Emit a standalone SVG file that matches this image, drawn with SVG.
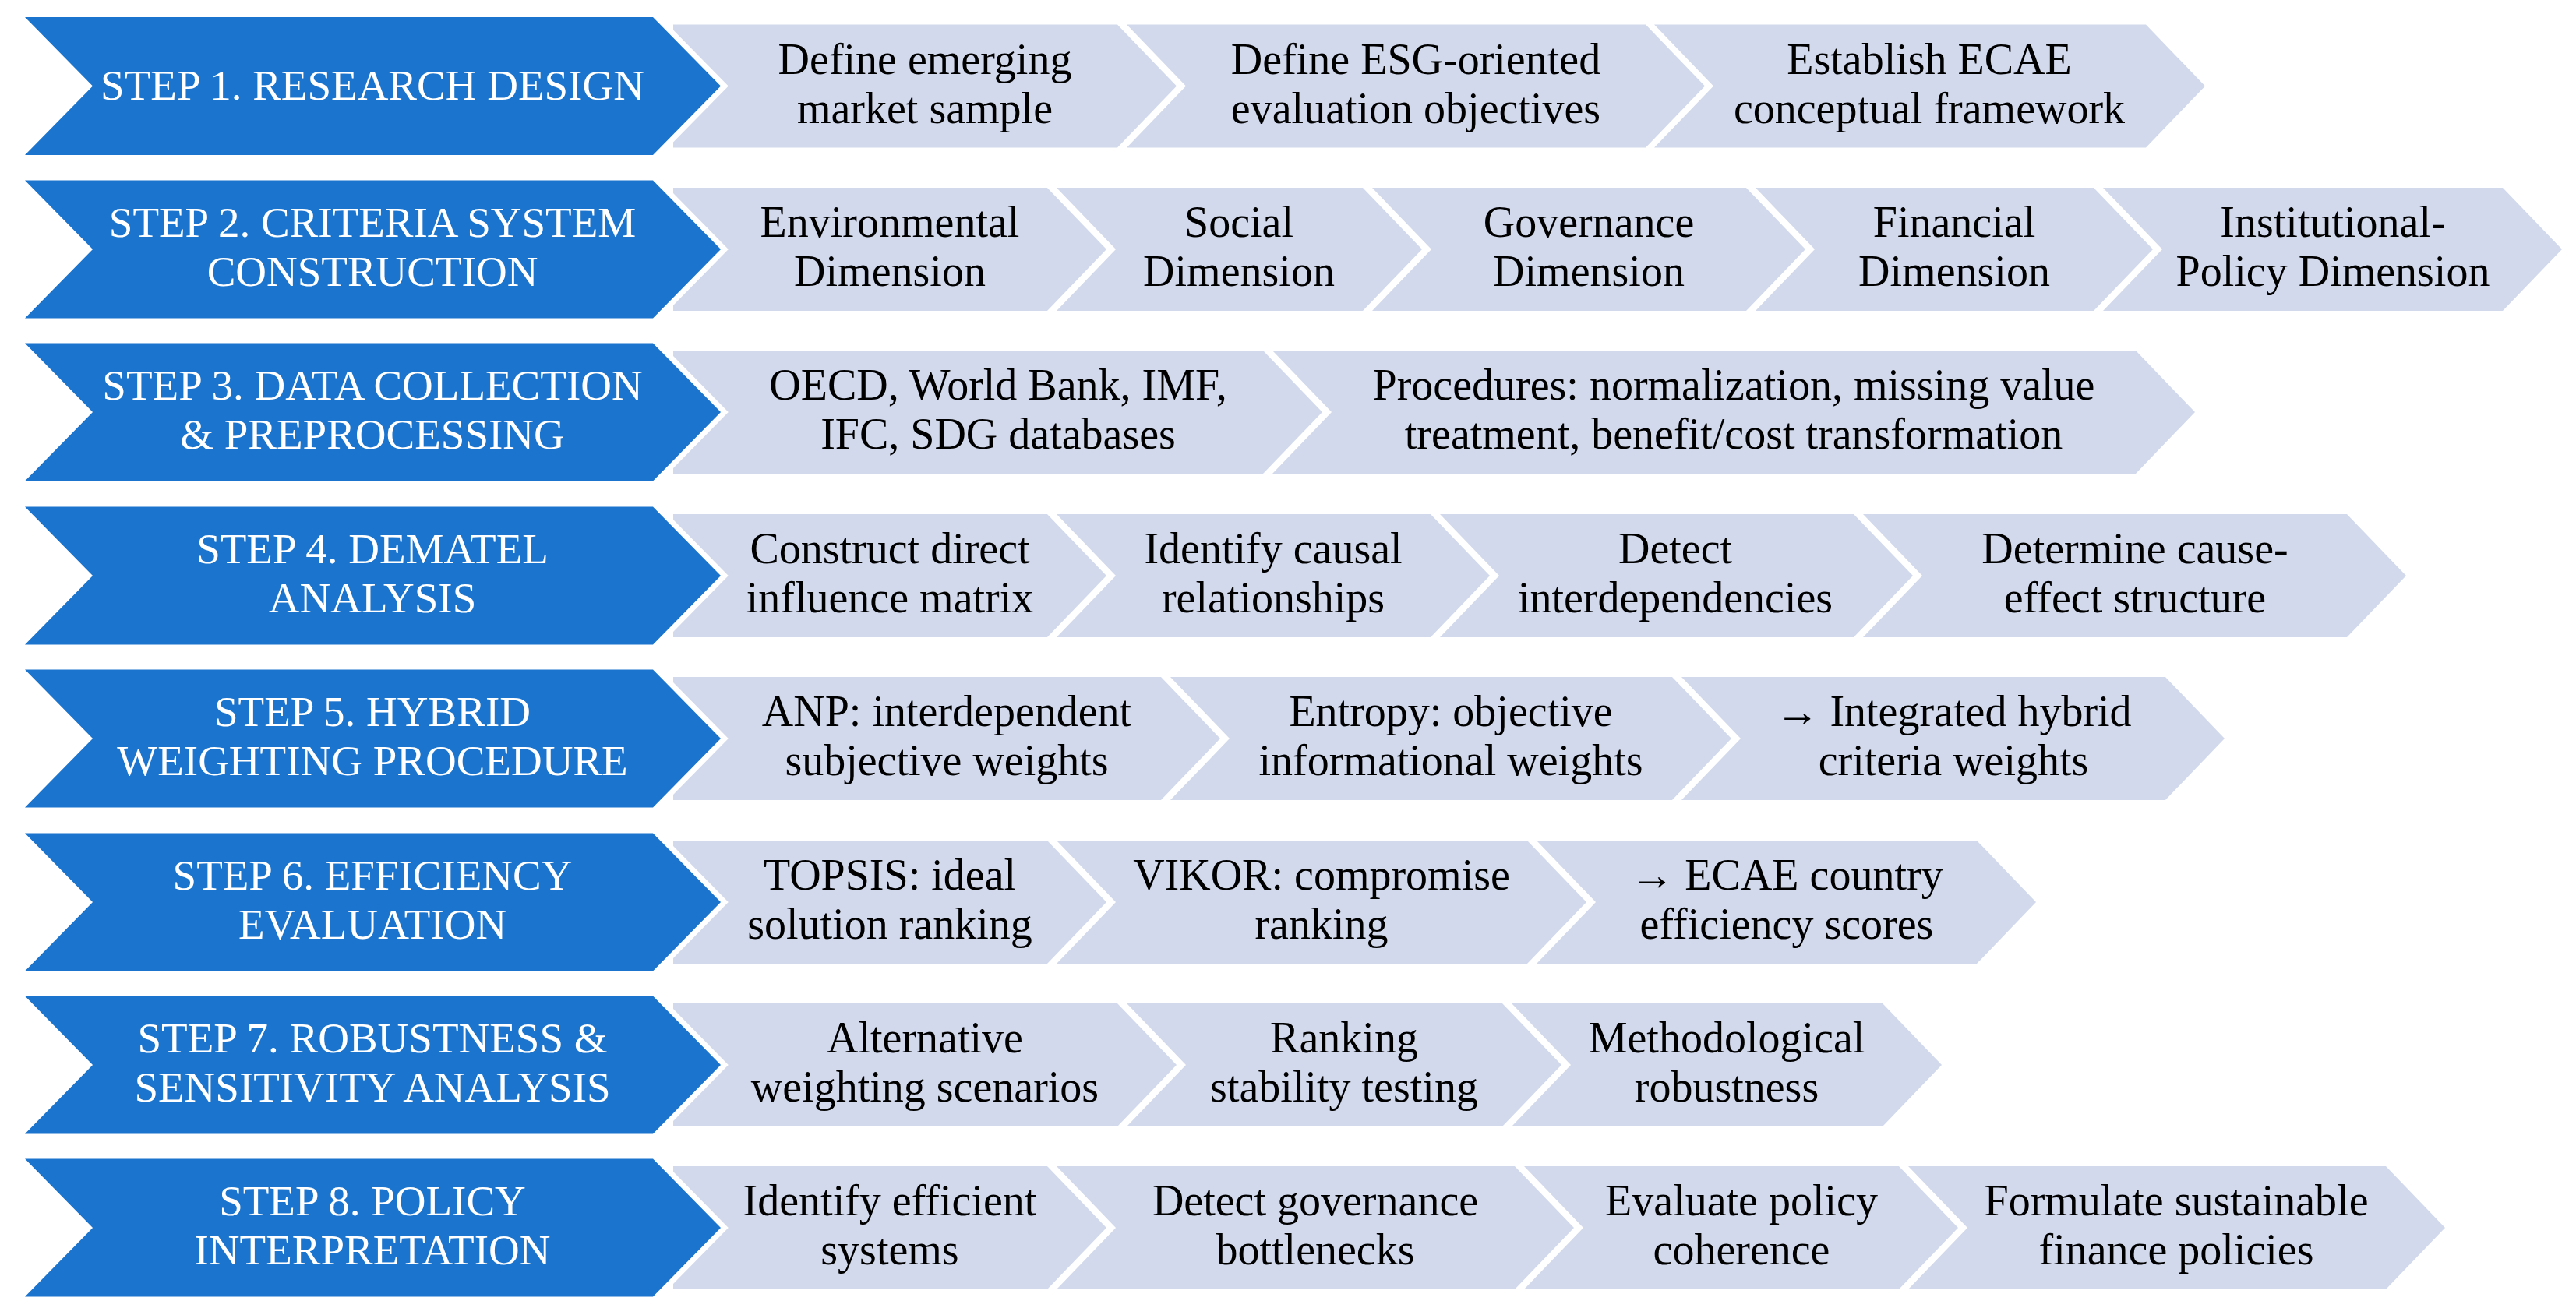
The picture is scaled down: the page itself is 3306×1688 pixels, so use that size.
<svg xmlns="http://www.w3.org/2000/svg" width="3306" height="1688" viewBox="0 0 3306 1688">
<style>
.blue{fill:#1B74CD;stroke:#FFFFFF;stroke-width:14;stroke-linejoin:miter;paint-order:stroke}
.light{fill:#D2D9EC}
text{font-family:"Liberation Serif","Times New Roman",serif;text-anchor:middle}
.bt{fill:#FFFFFF;font-size:55px}
.lt{fill:#000000;font-size:56px}
</style>
<rect width="3306" height="1688" fill="#FFFFFF"/>

<!-- Row 1 -->
<g id="row1" transform="translate(0,110.5)">
  <g id="r1-c1"><polygon class="light" points="864,-79 1434,-79 1510,0 1434,79 864,79"/>
    <text class="lt" x="1187" y="-16">Define emerging<tspan x="1187" y="47">market sample</tspan></text></g>
  <g id="r1-c2"><polygon class="light" points="1446,-79 2112,-79 2188,0 2112,79 1446,79 1522,0"/>
    <text class="lt" x="1817" y="-16">Define ESG-oriented<tspan x="1817" y="47">evaluation objectives</tspan></text></g>
  <g id="r1-c3"><polygon class="light" points="2123,-79 2754,-79 2830,0 2754,79 2123,79 2199,0"/>
    <text class="lt" x="2476" y="-16">Establish ECAE<tspan x="2476" y="47">conceptual framework</tspan></text></g>
  <g id="step1"><polygon class="blue" points="32,-88.5 838,-88.5 925,0 838,88.5 32,88.5 119,0"/>
    <text class="bt" x="478" y="17">STEP 1. RESEARCH DESIGN</text></g>
</g>

<!-- Row 2 -->
<g id="row2" transform="translate(0,320)">
  <g id="r2-c1"><polygon class="light" points="864,-79 1344,-79 1420,0 1344,79 864,79"/>
    <text class="lt" x="1142" y="-16">Environmental<tspan x="1142" y="47">Dimension</tspan></text></g>
  <g id="r2-c2"><polygon class="light" points="1356,-79 1749,-79 1825,0 1749,79 1356,79 1432,0"/>
    <text class="lt" x="1590" y="-16">Social<tspan x="1590" y="47">Dimension</tspan></text></g>
  <g id="r2-c3"><polygon class="light" points="1761,-79 2241,-79 2317,0 2241,79 1761,79 1837,0"/>
    <text class="lt" x="2039" y="-16">Governance<tspan x="2039" y="47">Dimension</tspan></text></g>
  <g id="r2-c4"><polygon class="light" points="2253,-79 2687,-79 2763,0 2687,79 2253,79 2329,0"/>
    <text class="lt" x="2508" y="-16">Financial<tspan x="2508" y="47">Dimension</tspan></text></g>
  <g id="r2-c5"><polygon class="light" points="2699,-79 3212,-79 3288,0 3212,79 2699,79 2775,0"/>
    <text class="lt" x="2994" y="-16">Institutional-<tspan x="2994" y="47">Policy Dimension</tspan></text></g>
  <g id="step2"><polygon class="blue" points="32,-88.5 838,-88.5 925,0 838,88.5 32,88.5 119,0"/>
    <text class="bt" x="478" y="-16">STEP 2. CRITERIA SYSTEM<tspan x="478" y="47">CONSTRUCTION</tspan></text></g>
</g>

<!-- Row 3 -->
<g id="row3" transform="translate(0,529)">
  <g id="r3-c1"><polygon class="light" points="864,-79 1621,-79 1697,0 1621,79 864,79"/>
    <text class="lt" x="1281" y="-16">OECD, World Bank, IMF,<tspan x="1281" y="47">IFC, SDG databases</tspan></text></g>
  <g id="r3-c2"><polygon class="light" points="1633,-79 2741,-79 2817,0 2741,79 1633,79 1709,0"/>
    <text class="lt" x="2225" y="-16">Procedures: normalization, missing value<tspan x="2225" y="47">treatment, benefit/cost transformation</tspan></text></g>
  <g id="step3"><polygon class="blue" points="32,-88.5 838,-88.5 925,0 838,88.5 32,88.5 119,0"/>
    <text class="bt" x="478" y="-16">STEP 3. DATA COLLECTION<tspan x="478" y="47">&amp; PREPROCESSING</tspan></text></g>
</g>

<!-- Row 4 -->
<g id="row4" transform="translate(0,739)">
  <g id="r4-c1"><polygon class="light" points="864,-79 1344,-79 1420,0 1344,79 864,79"/>
    <text class="lt" x="1142" y="-16">Construct direct<tspan x="1142" y="47">influence matrix</tspan></text></g>
  <g id="r4-c2"><polygon class="light" points="1356,-79 1836,-79 1912,0 1836,79 1356,79 1432,0"/>
    <text class="lt" x="1634" y="-16">Identify causal<tspan x="1634" y="47">relationships</tspan></text></g>
  <g id="r4-c3"><polygon class="light" points="1848,-79 2379,-79 2455,0 2379,79 1848,79 1924,0"/>
    <text class="lt" x="2150" y="-16">Detect<tspan x="2150" y="47">interdependencies</tspan></text></g>
  <g id="r4-c4"><polygon class="light" points="2391,-79 3012,-79 3088,0 3012,79 2391,79 2467,0"/>
    <text class="lt" x="2740" y="-16">Determine cause-<tspan x="2740" y="47">effect structure</tspan></text></g>
  <g id="step4"><polygon class="blue" points="32,-88.5 838,-88.5 925,0 838,88.5 32,88.5 119,0"/>
    <text class="bt" x="478" y="-16">STEP 4. DEMATEL<tspan x="478" y="47">ANALYSIS</tspan></text></g>
</g>

<!-- Row 5 -->
<g id="row5" transform="translate(0,948)">
  <g id="r5-c1"><polygon class="light" points="864,-79 1490,-79 1566,0 1490,79 864,79"/>
    <text class="lt" x="1215" y="-16">ANP: interdependent<tspan x="1215" y="47">subjective weights</tspan></text></g>
  <g id="r5-c2"><polygon class="light" points="1502,-79 2146,-79 2222,0 2146,79 1502,79 1578,0"/>
    <text class="lt" x="1862" y="-16">Entropy: objective<tspan x="1862" y="47">informational weights</tspan></text></g>
  <g id="r5-c3"><polygon class="light" points="2158,-79 2779,-79 2855,0 2779,79 2158,79 2234,0"/>
    <text class="lt" x="2507" y="-16">→ Integrated hybrid<tspan x="2507" y="47">criteria weights</tspan></text></g>
  <g id="step5"><polygon class="blue" points="32,-88.5 838,-88.5 925,0 838,88.5 32,88.5 119,0"/>
    <text class="bt" x="478" y="-16">STEP 5. HYBRID<tspan x="478" y="47">WEIGHTING PROCEDURE</tspan></text></g>
</g>

<!-- Row 6 -->
<g id="row6" transform="translate(0,1158)">
  <g id="r6-c1"><polygon class="light" points="864,-79 1344,-79 1420,0 1344,79 864,79"/>
    <text class="lt" x="1142" y="-16">TOPSIS: ideal<tspan x="1142" y="47">solution ranking</tspan></text></g>
  <g id="r6-c2"><polygon class="light" points="1356,-79 1960,-79 2036,0 1960,79 1356,79 1432,0"/>
    <text class="lt" x="1696" y="-16">VIKOR: compromise<tspan x="1696" y="47">ranking</tspan></text></g>
  <g id="r6-c3"><polygon class="light" points="1972,-79 2537,-79 2613,0 2537,79 1972,79 2048,0"/>
    <text class="lt" x="2293" y="-16">→ ECAE country<tspan x="2293" y="47">efficiency scores</tspan></text></g>
  <g id="step6"><polygon class="blue" points="32,-88.5 838,-88.5 925,0 838,88.5 32,88.5 119,0"/>
    <text class="bt" x="478" y="-16">STEP 6. EFFICIENCY<tspan x="478" y="47">EVALUATION</tspan></text></g>
</g>

<!-- Row 7 -->
<g id="row7" transform="translate(0,1367)">
  <g id="r7-c1"><polygon class="light" points="864,-79 1434,-79 1510,0 1434,79 864,79"/>
    <text class="lt" x="1187" y="-16">Alternative<tspan x="1187" y="47">weighting scenarios</tspan></text></g>
  <g id="r7-c2"><polygon class="light" points="1446,-79 1928,-79 2004,0 1928,79 1446,79 1522,0"/>
    <text class="lt" x="1725" y="-16">Ranking<tspan x="1725" y="47">stability testing</tspan></text></g>
  <g id="r7-c3"><polygon class="light" points="1940,-79 2416,-79 2492,0 2416,79 1940,79 2016,0"/>
    <text class="lt" x="2216" y="-16">Methodological<tspan x="2216" y="47">robustness</tspan></text></g>
  <g id="step7"><polygon class="blue" points="32,-88.5 838,-88.5 925,0 838,88.5 32,88.5 119,0"/>
    <text class="bt" x="478" y="-16">STEP 7. ROBUSTNESS &amp;<tspan x="478" y="47">SENSITIVITY ANALYSIS</tspan></text></g>
</g>

<!-- Row 8 -->
<g id="row8" transform="translate(0,1576)">
  <g id="r8-c1"><polygon class="light" points="864,-79 1344,-79 1420,0 1344,79 864,79"/>
    <text class="lt" x="1142" y="-16">Identify efficient<tspan x="1142" y="47">systems</tspan></text></g>
  <g id="r8-c2"><polygon class="light" points="1356,-79 1944,-79 2020,0 1944,79 1356,79 1432,0"/>
    <text class="lt" x="1688" y="-16">Detect governance<tspan x="1688" y="47">bottlenecks</tspan></text></g>
  <g id="r8-c3"><polygon class="light" points="1956,-79 2437,-79 2513,0 2437,79 1956,79 2032,0"/>
    <text class="lt" x="2235" y="-16">Evaluate policy<tspan x="2235" y="47">coherence</tspan></text></g>
  <g id="r8-c4"><polygon class="light" points="2449,-79 3062,-79 3138,0 3062,79 2449,79 2525,0"/>
    <text class="lt" x="2793" y="-16">Formulate sustainable<tspan x="2793" y="47">finance policies</tspan></text></g>
  <g id="step8"><polygon class="blue" points="32,-88.5 838,-88.5 925,0 838,88.5 32,88.5 119,0"/>
    <text class="bt" x="478" y="-16">STEP 8. POLICY<tspan x="478" y="47">INTERPRETATION</tspan></text></g>
</g>
</svg>
